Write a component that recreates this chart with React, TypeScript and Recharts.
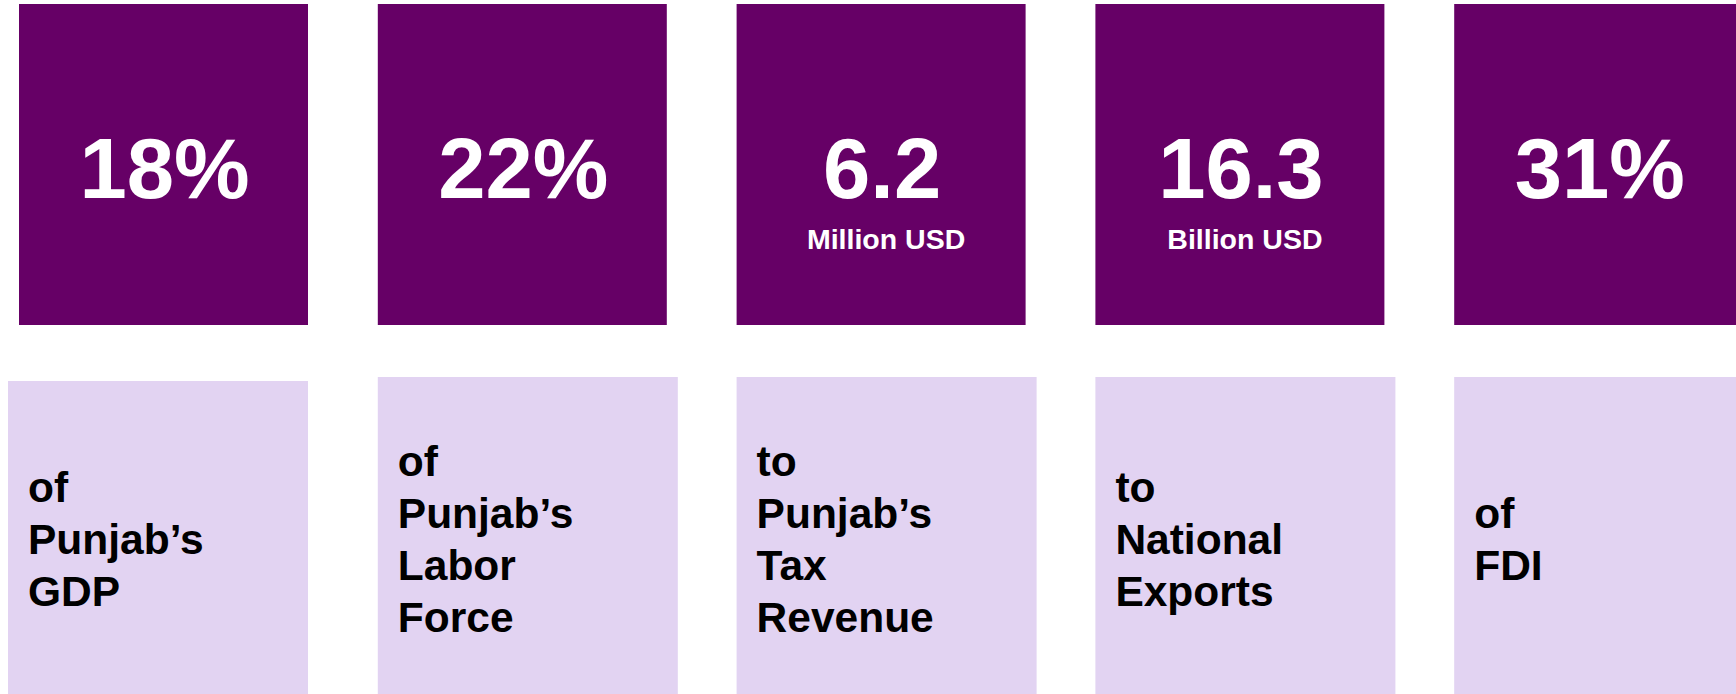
import { BarChart, Bar, XAxis, YAxis } from "recharts";

// Figures shown in the dark tiles
const categories = ["GDP", "Labor Force", "Tax Revenue", "Exports", "FDI"];
const figures = ["18%", "22%", "6.2", "16.3", "31%"];
const units = ["", "", "Million USD", "Billion USD", ""];

// Captions in the light tiles, one entry per line
const captions = [
  ["of", "Punjab’s", "GDP"],
  ["of", "Punjab’s", "Labor", "Force"],
  ["to", "Punjab’s", "Tax", "Revenue"],
  ["to", "National", "Exports"],
  ["of", "FDI"],
];

const DARK = "#660066";
const LIGHT = "#E2D3F2";
const FONT = "'Liberation Sans', Arial, Helvetica, sans-serif";

const data = categories.map((name, i) => ({
  name,
  figure: figures[i],
  unit: units[i],
  caption: captions[i],
  panel: 1,
}));

function Panel(props: any) {
  const { x, y, width, index, payload } = props;
  const first = index === 0;
  // light tile is a bit wider than the dark one
  const lightX = first ? x - 11 : x;
  const lightW = width + 11;
  const lightY = y + (first ? 377 : 373);
  const lines: string[] = payload.caption;
  const mid = y + 550;

  return (
    <g>
      <rect x={x} y={y} width={width} height={321} fill={DARK} />
      <text
        x={x + width / 2 + 1}
        y={y + 194}
        textAnchor="middle"
        fill="#fff"
        fontFamily={FONT}
        fontWeight="bold"
        fontSize={85}
      >
        {payload.figure}
      </text>
      {payload.unit && (
        <text
          x={x + width / 2 + 5}
          y={y + 245}
          textAnchor="middle"
          fill="#fff"
          fontFamily={FONT}
          fontWeight="bold"
          fontSize={28.5}
        >
          {payload.unit}
        </text>
      )}
      <rect x={lightX} y={lightY} width={lightW} height={700 - lightY} fill={LIGHT} />
      {lines.map((line, i) => (
        <text
          key={line + i}
          x={lightX + 20}
          y={mid + (i - (lines.length - 1) / 2) * 52}
          fill="#000"
          fontFamily={FONT}
          fontWeight="bold"
          fontSize={42.5}
        >
          {line}
        </text>
      ))}
    </g>
  );
}

export default function App() {
  return (
    <div
      style={{
        position: "fixed",
        left: 0,
        top: 0,
        width: 1736,
        height: 694,
        overflow: "hidden",
        background: "#fff",
      }}
    >
      <div style={{ marginLeft: -16 }}>
        <BarChart
          width={1794}
          height={694}
          data={data}
          margin={{ top: 4, right: 0, bottom: 0, left: 0 }}
          barSize={289}
        >
          <XAxis dataKey="name" hide />
          <YAxis domain={[0, 1]} hide />
          <Bar dataKey="panel" isAnimationActive={false} shape={(p: any) => <Panel {...p} />} />
        </BarChart>
      </div>
    </div>
  );
}
